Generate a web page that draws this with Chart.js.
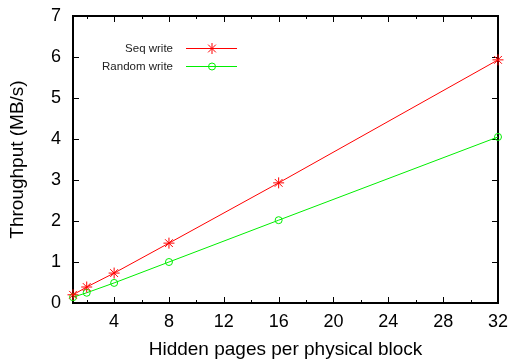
<!DOCTYPE html>
<html><head><meta charset="utf-8">
<script src="https://cdn.jsdelivr.net/npm/chart.js@4"></script>
<style>html,body{margin:0;padding:0;background:#fff}#c{display:block}</style>
</head><body>
<canvas id="c" width="512" height="363"></canvas>
<script>
const pagesPerBlock = [1, 2, 4, 8, 16, 32];
const seqWrite = [0.2, 0.39, 0.73, 1.46, 2.93, 5.93];
const randomWrite = [0.14, 0.25, 0.49, 1.0, 2.02, 4.05];
const xTickLabels = [4, 8, 12, 16, 20, 24, 28, 32];
const xMinorTicks = [2, 6, 10, 14, 18, 22, 26, 30];
const yTickLabels = [0, 1, 2, 3, 4, 5, 6, 7];
const seriesNames = ['Seq write', 'Random write'];

const FONT = '"Liberation Sans", Arial, Helvetica, sans-serif';

const framePlugin = {
  id: 'frame',
  beforeDatasetsDraw(chart) {
    const {ctx, chartArea: a, scales: {x, y}} = chart;
    ctx.save();
    ctx.strokeStyle = '#000';
    ctx.lineWidth = 1;
    ctx.beginPath();
    xTickLabels.forEach(v => {
      const px = Math.round(x.getPixelForValue(v)) + 0.5;
      ctx.moveTo(px, a.bottom); ctx.lineTo(px, a.bottom - 6);
      ctx.moveTo(px, a.top); ctx.lineTo(px, a.top + 6);
    });
    xMinorTicks.forEach(v => {
      const px = Math.round(x.getPixelForValue(v)) + 0.5;
      ctx.moveTo(px, a.bottom); ctx.lineTo(px, a.bottom - 3);
      ctx.moveTo(px, a.top); ctx.lineTo(px, a.top + 3);
    });
    yTickLabels.forEach(v => {
      const py = Math.round(y.getPixelForValue(v)) + 0.5;
      ctx.moveTo(a.left, py); ctx.lineTo(a.left + 6, py);
      ctx.moveTo(a.right, py); ctx.lineTo(a.right - 6, py);
    });
    ctx.stroke();
    ctx.lineWidth = 2;
    ctx.strokeRect(Math.round(a.left), Math.round(a.top), Math.round(a.right - a.left), Math.round(a.bottom - a.top));
    ctx.restore();
  },
  afterDatasetsDraw(chart) {
    const {ctx} = chart;
    ctx.save();
    ctx.font = '11.5px ' + FONT;
    ctx.textAlign = 'right';
    ctx.textBaseline = 'middle';
    const rows = [48, 66];
    chart.data.datasets.forEach((ds, i) => {
      const yy = rows[i] + 0.5;
      ctx.fillStyle = '#222';
      ctx.fillText(ds.label, 173, yy);
      ctx.strokeStyle = ds.borderColor;
      ctx.lineWidth = 1;
      ctx.beginPath(); ctx.moveTo(186, yy); ctx.lineTo(237, yy); ctx.stroke();
      ctx.fillStyle = 'rgba(0,0,0,0)';
      Chart.helpers.drawPoint(ctx, {pointStyle: ds.pointStyle, radius: ds.pointRadius, borderWidth: 1}, 212, yy);
    });
    ctx.restore();
  }
};

new Chart(document.getElementById('c'), {
  type: 'line',
  data: {
    datasets: [
      {label: seriesNames[0], data: pagesPerBlock.map((v, i) => ({x: v, y: seqWrite[i]})),
       borderColor: '#ff0000', backgroundColor: 'rgba(0,0,0,0)', pointStyle: 'star', pointRadius: 5.5,
       pointBorderColor: '#ff0000', borderWidth: 1, pointBorderWidth: 1, tension: 0, clip: false},
      {label: seriesNames[1], data: pagesPerBlock.map((v, i) => ({x: v, y: randomWrite[i]})),
       borderColor: '#00ee00', backgroundColor: 'rgba(0,0,0,0)', pointStyle: 'circle', pointRadius: 3.5,
       pointBorderColor: '#00ee00', pointBackgroundColor: 'rgba(0,0,0,0)', borderWidth: 1, pointBorderWidth: 1, tension: 0, clip: false}
    ]
  },
  options: {
    responsive: false,
    animation: false,
    layout: {padding: {left: 0, right: 14, top: 16, bottom: 0}},
    plugins: {legend: {display: false}, tooltip: {enabled: false}},
    scales: {
      x: {
        type: 'linear', min: 1, max: 32,
        afterBuildTicks: s => { s.ticks = xTickLabels.map(v => ({value: v})); },
        afterFit: s => { s.height = 60; s.paddingLeft = 0; s.paddingRight = 0; },
        grid: {display: false, drawTicks: false},
        border: {display: false},
        ticks: {font: {family: FONT, size: 18}, color: '#000', padding: 8, maxRotation: 0, autoSkip: false},
        title: {display: true, text: 'Hidden pages per physical block', font: {family: FONT, size: 19}, color: '#000', padding: {top: 2, bottom: 2}}
      },
      y: {
        type: 'linear', min: 0, max: 7,
        afterBuildTicks: s => { s.ticks = yTickLabels.map(v => ({value: v})); },
        afterFit: s => { s.width = 73; s.paddingTop = 0; s.paddingBottom = 0; },
        grid: {display: false, drawTicks: false},
        border: {display: false},
        ticks: {font: {family: FONT, size: 18}, color: '#000', padding: 12},
        title: {display: true, text: 'Throughput (MB/s)', font: {family: FONT, size: 19}, color: '#000', padding: {top: 6, bottom: 6}}
      }
    }
  },
  plugins: [framePlugin]
});
</script>
</body></html>
